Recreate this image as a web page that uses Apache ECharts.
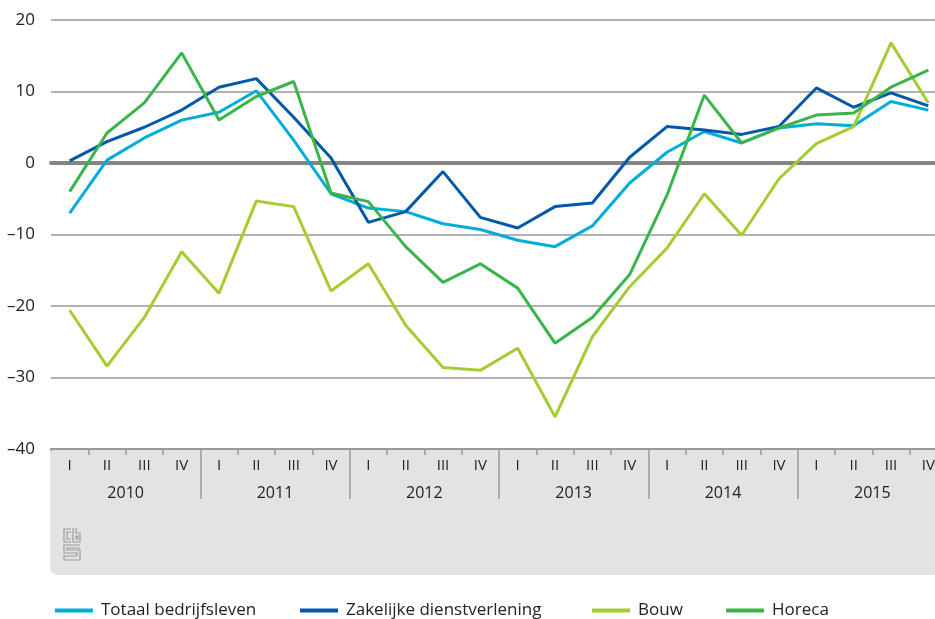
<!DOCTYPE html>
<html>
<head>
<meta charset="utf-8">
<script src="https://cdn.jsdelivr.net/npm/echarts@6/dist/echarts.min.js"></script>
<style>
  html, body { margin: 0; padding: 0; background: #fff; }
  #chart { width: 935px; height: 619px; }
</style>
</head>
<body>
<div id="chart"></div>
<script>
// kwartalen en jaren
const quarters = ['I', 'II', 'III', 'IV'];
const years = ['2010', '2011', '2012', '2013', '2014', '2015'];
const categories = [];
years.forEach(y => quarters.forEach(q => categories.push(y + ' ' + q)));

// saldo's per kwartaal
const totaal = [-7.0, 0.4, 3.5, 6.0, 7.1, 10.1, 3.2, -4.3, -6.3, -6.8, -8.5, -9.3,
  -10.8, -11.7, -8.8, -2.8, 1.5, 4.4, 2.8, 4.9, 5.5, 5.2, 8.6, 7.4];
const zakelijk = [0.3, 3.0, 5.0, 7.4, 10.6, 11.8, 6.4, 0.7, -8.3, -6.8, -1.2, -7.6,
  -9.1, -6.1, -5.6, 0.8, 5.1, 4.6, 4.0, 5.1, 10.5, 7.8, 9.8, 8.0];
const bouw = [-20.6, -28.4, -21.6, -12.4, -18.2, -5.3, -6.1, -17.9, -14.1, -22.7, -28.6, -29.0,
  -25.9, -35.5, -24.3, -17.3, -11.9, -4.3, -10.1, -2.2, 2.7, 5.1, 16.8, 8.4];
const horeca = [-4.0, 4.2, 8.4, 15.4, 6.0, 9.3, 11.4, -4.2, -5.4, -11.7, -16.7, -14.1,
  -17.5, -25.2, -21.6, -15.6, -4.5, 9.5, 2.8, 4.9, 6.7, 7.0, 10.6, 13.0];

const seriesNames = ['Totaal bedrijfsleven', 'Zakelijke dienstverlening', 'Bouw', 'Horeca'];
const seriesData = [totaal, zakelijk, bouw, horeca];
const colors = ['#00acd9', '#0058a8', '#a6cc33', '#3ab54a'];
const legendLeft = [50, 295, 587, 721];

const font = '"Open Sans", "Noto Sans", sans-serif';
const grey = '#999';
const boxGrey = '#e2e3e5';

var chart = echarts.init(document.getElementById('chart'));

chart.setOption({
  animation: false,
  grid: { left: 51, width: 896, top: 20, bottom: 170, outerBoundsMode: 'none', containLabel: false },
  legend: seriesNames.map((n, i) => ({
    data: [n],
    left: legendLeft[i],
    top: 597,
    icon: 'rect',
    itemWidth: 38,
    itemHeight: 4,
    textStyle: { fontFamily: font, fontSize: 17, color: '#222', padding: [0, 0, 0, 3] }
  })),
  xAxis: [
    {
      type: 'category',
      data: categories,
      boundaryGap: true,
      position: 'bottom',
      axisLine: { show: true, onZero: false, lineStyle: { color: grey, width: 2 } },
      axisTick: { show: true, interval: 0, length: 6, lineStyle: { color: grey, width: 1.5 } },
      axisLabel: {
        interval: 0, margin: 9, fontFamily: font, fontSize: 15, color: '#222',
        formatter: v => v.split(' ')[1]
      },
      z: 1
    },
    {
      type: 'category',
      data: years,
      boundaryGap: true,
      position: 'bottom',
      axisLine: { show: false, onZero: false },
      axisTick: { show: true, interval: 0, length: 50, lineStyle: { color: grey, width: 1.5 } },
      axisLabel: { margin: 36, fontFamily: font, fontSize: 16, color: '#222' },
      z: 1
    },
    {
      type: 'category',
      data: categories,
      boundaryGap: true,
      axisLine: { onZero: true, lineStyle: { color: '#858585', width: 4 } },
      axisTick: { show: false },
      axisLabel: { show: false }
    }
  ],
  yAxis: {
    type: 'value',
    min: -40,
    max: 20,
    interval: 10,
    axisLine: { show: false },
    axisTick: { show: false },
    splitLine: { lineStyle: { color: grey, width: 1.5 } },
    axisLabel: {
      margin: 16, fontFamily: font, fontSize: 17, color: '#222',
      formatter: v => (v < 0 ? '\u2013' + Math.abs(v) : String(v))
    }
  },
  graphic: [
    {
      type: 'rect',
      z: -10,
      shape: { x: 50, y: 450, width: 900, height: 125, r: [0, 0, 0, 8] },
      style: { fill: boxGrey }
    },
    // linker rand van het kader zonder jaarstreep
    {
      type: 'rect',
      z: 10,
      shape: { x: 50, y: 451, width: 3, height: 52 },
      style: { fill: boxGrey }
    },
    {
      type: 'group',
      z: -5,
      children: [
        // c
        { type: 'polyline', shape: { points: [[71, 529], [64, 529], [64, 542], [71, 542]] }, style: { stroke: '#9c9c9c', lineWidth: 1.2, fill: null } },
        { type: 'polyline', shape: { points: [[71, 532], [67, 532], [67, 539], [71, 539]] }, style: { stroke: '#9c9c9c', lineWidth: 1.2, fill: null } },
        // b
        { type: 'polyline', shape: { points: [[73, 528], [73, 542], [80, 542], [80, 533], [76, 533], [76, 528]] }, style: { stroke: '#9c9c9c', lineWidth: 1.2, fill: null } },
        { type: 'rect', shape: { x: 76, y: 536, width: 2, height: 3 }, style: { stroke: '#9c9c9c', lineWidth: 1.2, fill: null } },
        // s
        { type: 'polyline', shape: { points: [[80, 545], [64, 545], [64, 553], [77, 553], [77, 556], [64, 556], [64, 560], [80, 560], [80, 550], [67, 550], [67, 548], [80, 548]] }, style: { stroke: '#9c9c9c', lineWidth: 1.2, fill: null } }
      ]
    }
  ],
  series: seriesNames.map((n, i) => ({
    name: n,
    type: 'line',
    xAxisIndex: 0,
    data: seriesData[i],
    symbol: 'none',
    color: colors[i],
    lineStyle: { width: 3, color: colors[i] },
    z: 3 + i
  }))
});
</script>
</body>
</html>
